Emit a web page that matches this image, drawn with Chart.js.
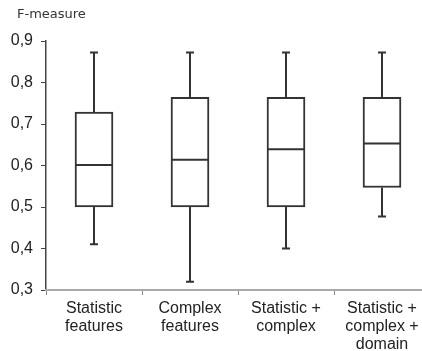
<!DOCTYPE html>
<html>
<head>
<meta charset="utf-8">
<script src="https://cdn.jsdelivr.net/npm/chart.js@4"></script>
<style>
  html, body { margin: 0; padding: 0; background: #fff; overflow: hidden; }
  #wrap { width: 430px; height: 351px; }
</style>
</head>
<body>
<div id="wrap"><canvas id="chart" width="430" height="351"></canvas></div>
<script>
const categories = [
    ['Statistic', 'features'],
    ['Complex', 'features'],
    ['Statistic +', 'complex'],
    ['Statistic +', 'complex +', 'domain'],
];
const whisker_min = [0.41, 0.32, 0.40, 0.477];
const q1 = [0.50, 0.50, 0.50, 0.547];
const median = [0.601, 0.614, 0.639, 0.653];
const q3 = [0.729, 0.764, 0.764, 0.764];
const whisker_max = [0.872, 0.872, 0.872, 0.872];
const y_ticks = [0.3, 0.4, 0.5, 0.6, 0.7, 0.8, 0.9];

// whiskers + medians, drawn through the chart scales
const boxExtras = {
    id: 'boxExtras',
    afterDatasetsDraw(chart) {
        const ctx = chart.ctx;
        const x = chart.scales.x;
        const y = chart.scales.y;
        const bars = chart.getDatasetMeta(0).data;
        ctx.save();
        ctx.strokeStyle = '#333';
        ctx.lineWidth = 2;
        categories.forEach((c, i) => {
            const px = x.getPixelForValue(i);
            const half = bars[i].width / 2;
            ctx.beginPath();
            // upper whisker
            ctx.moveTo(px, y.getPixelForValue(q3[i]));
            ctx.lineTo(px, y.getPixelForValue(whisker_max[i]));
            ctx.moveTo(px - 4, y.getPixelForValue(whisker_max[i]));
            ctx.lineTo(px + 4, y.getPixelForValue(whisker_max[i]));
            // lower whisker
            ctx.moveTo(px, y.getPixelForValue(q1[i]));
            ctx.lineTo(px, y.getPixelForValue(whisker_min[i]));
            ctx.moveTo(px - 4, y.getPixelForValue(whisker_min[i]));
            ctx.lineTo(px + 4, y.getPixelForValue(whisker_min[i]));
            // median
            ctx.moveTo(px - half, y.getPixelForValue(median[i]));
            ctx.lineTo(px + half, y.getPixelForValue(median[i]));
            ctx.stroke();
        });
        // axis title
        ctx.fillStyle = '#333';
        ctx.font = '13px "DejaVu Sans"';
        ctx.textBaseline = 'middle';
        ctx.textAlign = 'left';
        ctx.fillText('F-measure', 17, 15);
        ctx.restore();
    }
};

const ctx = document.getElementById('chart').getContext('2d');

const chart = new Chart(ctx, {
    type: 'bar',
    data: {
        labels: categories,
        datasets: [{
            data: categories.map((c, i) => [q1[i], q3[i]]),
            backgroundColor: '#ffffff',
            borderColor: '#333',
            borderWidth: 2,
            borderSkipped: false,
            barThickness: 38,
        }],
    },
    options: {
        responsive: false,
        animation: false,
        devicePixelRatio: 1,
        layout: {
            padding: { top: 41, left: 0, right: 0, bottom: 0 },
        },
        plugins: {
            legend: { display: false },
            tooltip: { enabled: false },
        },
        scales: {
            y: {
                min: 0.3,
                max: 0.9,
                afterFit(scale) { scale.width = 46; },
                afterBuildTicks(scale) { scale.ticks = y_ticks.map(v => ({ value: v })); },
                ticks: {
                    color: '#222',
                    padding: 8,
                    font: { family: 'Liberation Sans', size: 16 },
                    callback: v => v.toFixed(1).replace('.', ','),
                },
                grid: { drawOnChartArea: false, tickLength: 5, color: '#444' },
                border: { color: '#444', width: 1.5 },
            },
            x: {
                afterFit(scale) { scale.height = 61; },
                ticks: {
                    color: '#222',
                    padding: 5,
                    maxRotation: 0,
                    font: { family: 'Liberation Sans', size: 16, lineHeight: 1.12 },
                },
                grid: { drawOnChartArea: false, tickLength: 5, color: '#888', offset: true },
                border: { color: '#aaa', width: 2 },
            },
        },
    },
    plugins: [boxExtras],
});
</script>
</body>
</html>
